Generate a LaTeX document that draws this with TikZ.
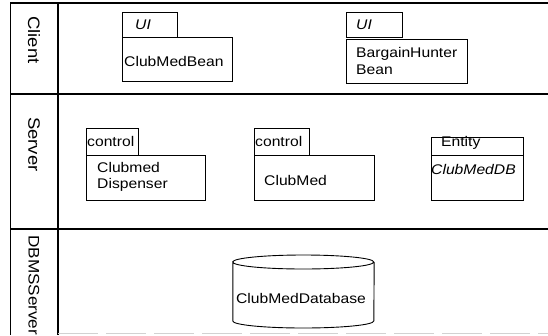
\documentclass[tikz,border=0pt]{standalone}
\usepackage{fontspec}
\setmainfont[FakeStretch=1.12]{Liberation Sans}
\begin{document}
\begin{tikzpicture}[x=1pt,y=-1pt,
  every node/.style={font=\fontsize{14}{16.5}\selectfont},
  lane/.style={line width=1.3pt},
  lanelabel/.style={rotate=-90,anchor=west,inner sep=0pt,font=\fontsize{16.5}{19}\selectfont},
  tabbox/.style={draw,line width=0.9pt,anchor=north west,inner sep=0pt,minimum height=#1,text depth=0pt},
  bodybox/.style={draw,line width=0.9pt,anchor=north west,inner sep=0pt},
  pkgtext/.style={inner sep=0pt,anchor=west,align=left}
]
\useasboundingbox (0,0) rectangle (548,335);
% frame and lanes
\coordinate (tl) at (10,3);
\coordinate (tr) at (548,3);
\coordinate (bl) at (10,335);
\coordinate (dt) at (58,3);
\coordinate (db) at (58,335);
\coordinate (h1l) at (10,94);
\coordinate (h1r) at (548,94);
\coordinate (h2l) at (10,229);
\coordinate (h2r) at (548,229);
\coordinate (bbl) at (58,333);
\coordinate (bbr) at (548,333);
\draw[lane] (tl) -- (tr);
\draw[line width=0.8pt] (tl) -- (bl);
\draw[lane] (dt) -- (db);
\draw[lane] (h1l) -- (h1r);
\draw[lane] (h2l) -- (h2r);
\draw[gray!35,line width=0.6pt,dash pattern=on 40pt off 8pt] (bbl) -- (bbr);
% lane labels
\node[lanelabel] (lclient) at (34,16) {Client};
\node[lanelabel] (lserver) at (34,117) {Server};
\node[lanelabel,font=\fontsize{15.3}{18}\selectfont] (ldbms) at (34,235) {DBMSServer};
% Client: ClubMedBean
\node[tabbox=25pt,minimum width=55pt] (t1) at (122,12) {};
\node[pkgtext] (t1l) at (135,24.5) {\textit{UI}};
\node[bodybox,minimum width=110pt,minimum height=44pt] (b1) at (122,37) {};
\node[pkgtext] (b1l) at (124,61) {ClubMedBean};
% Client: BargainHunterBean
\node[tabbox=25pt,minimum width=56pt] (t2) at (346,12) {};
\node[pkgtext] (t2l) at (356,24.5) {\textit{UI}};
\node[bodybox,minimum width=121pt,minimum height=44pt] (b2) at (346,39) {};
\node[pkgtext] (b2l) at (356,61) {BargainHunter\\Bean};
% Server: Clubmed Dispenser
\node[tabbox=27pt,minimum width=52pt] (t3) at (86,128) {};
\node[pkgtext] (t3l) at (87,141.5) {control};
\node[bodybox,minimum width=119pt,minimum height=45pt] (b3) at (86,155) {};
\node[pkgtext] (b3l) at (97,177) {Clubmed\\Dispenser};
% Server: ClubMed
\node[tabbox=27pt,minimum width=55pt] (t4) at (254,128) {};
\node[pkgtext] (t4l) at (255,141.5) {control};
\node[bodybox,minimum width=120pt,minimum height=45pt] (b4) at (254,155) {};
\node[pkgtext] (b4l) at (264,180) {ClubMed};
% Server: ClubMedDB
\node[tabbox=18pt,minimum width=92pt] (t5) at (431,137) {};
\node[pkgtext] (t5l) at (441,143) {Entity};
\node[bodybox,minimum width=92pt,minimum height=45pt] (b5) at (431,155) {};
\node[pkgtext] (b5l) at (431,169) {\textit{ClubMedDB}};
% DBMS: database (cylinder drawn directly)
\node[inner sep=0pt,minimum width=141pt,minimum height=73pt] (db1) at (303.5,291.5) {};
\draw[line width=0.9pt]
  (db1.west |- 0,262) arc[start angle=180,end angle=0,x radius=70.5pt,y radius=7pt]
  arc[start angle=0,end angle=-180,x radius=70.5pt,y radius=7pt]
  -- (db1.west |- 0,321) arc[start angle=180,end angle=360,x radius=70.5pt,y radius=7pt]
  -- (db1.east |- 0,262);
\node[inner sep=0pt] (db1l) at (301,298) {ClubMedDatabase};
\end{tikzpicture}
\end{document}
